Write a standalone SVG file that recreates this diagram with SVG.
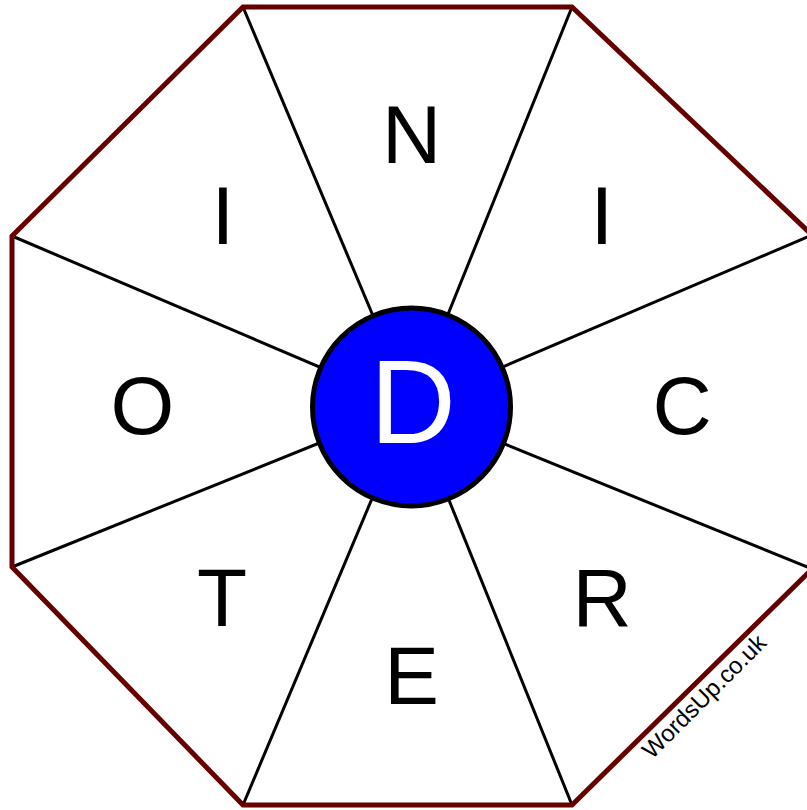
<svg xmlns="http://www.w3.org/2000/svg" width="807" height="810" viewBox="0 0 807 810">
<style>
.spoke{stroke:#000;stroke-width:3;fill:none}
.oct{stroke:#660000;stroke-width:5;fill:none;stroke-linejoin:miter}
.let{font-family:"Liberation Sans",Arial,sans-serif;font-size:82px;fill:#000;text-anchor:middle}
.ctr{font-family:"Liberation Sans",Arial,sans-serif;font-size:119px;fill:#fff;text-anchor:middle}
.wm{font-family:"Liberation Sans",Arial,sans-serif;font-size:24px;fill:#000}
</style>
<rect width="807" height="810" fill="#fff"/>
<g id="connectors">
<line class="spoke" x1="243" y1="7" x2="411" y2="406"/>
<line class="spoke" x1="572" y1="7" x2="411" y2="406"/>
<line class="spoke" x1="812" y1="235" x2="411" y2="406"/>
<line class="spoke" x1="812" y1="569" x2="411" y2="406"/>
<line class="spoke" x1="572" y1="805" x2="411" y2="406"/>
<line class="spoke" x1="243" y1="805" x2="411" y2="406"/>
<line class="spoke" x1="12" y1="567" x2="411" y2="406"/>
<line class="spoke" x1="12" y1="236" x2="411" y2="406"/>
</g>
<g id="octagon">
<polygon class="oct" points="243,7 572,7 812,235 812,569 572,805 243,805 12,567 12,236"/>
</g>
<g id="node-N"><text class="let" x="411.5" y="163">N</text></g>
<g id="node-I1"><text class="let" x="602" y="244">I</text></g>
<g id="node-C"><text class="let" x="682" y="434">C</text></g>
<g id="node-R"><text class="let" x="602" y="626">R</text></g>
<g id="node-E"><text class="let" x="411.5" y="704">E</text></g>
<g id="node-T"><text class="let" x="222" y="626">T</text></g>
<g id="node-O"><text class="let" x="142.5" y="434">O</text></g>
<g id="node-I2"><text class="let" x="223" y="244">I</text></g>
<g id="node-D">
<circle cx="411.5" cy="407" r="99" fill="#0000ff" stroke="#000" stroke-width="5"/>
<text class="ctr" x="413" y="443">D</text>
</g>
<text class="wm" x="0" y="0" transform="translate(652,760) rotate(-45)">WordsUp.co.uk</text>
</svg>
